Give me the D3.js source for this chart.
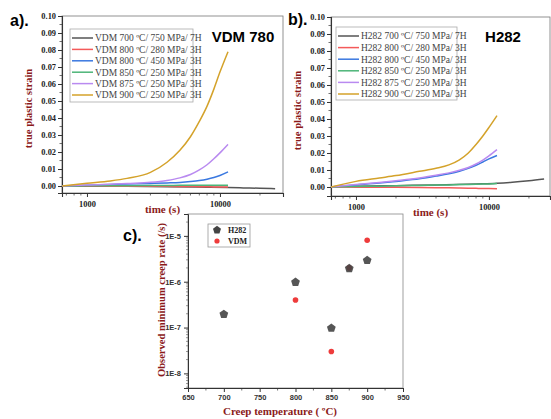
<!DOCTYPE html>
<html>
<head>
<meta charset="utf-8">
<script src="https://cdn.jsdelivr.net/npm/d3@7"></script>
<style>
  body { margin: 0; background: #fff; }
  svg { display: block; }
  .tk text { font-family: "Liberation Serif", serif; font-weight: bold; font-size: 8.4px; fill: #222; }
  .tkc text { font-family: "Liberation Sans", Arial, sans-serif; font-weight: bold; font-size: 7.5px; fill: #333; }
  .ttl { font-family: "Liberation Serif", serif; font-weight: bold; fill: #8b1a1a; }
  .lab { font-family: "Liberation Sans", Arial, sans-serif; font-weight: bold; fill: #000; }
  .leg { font-family: "Liberation Serif", serif; fill: #444; }
</style>
</head>
<body>
<svg width="551" height="419"></svg>
<script>
let W = 551, H = 419;

// creep curves: time (s)
let timeShort = [650, 1000, 1500, 2000, 3000, 4000, 5000, 6000, 7000, 8000, 9000, 10000, 11500];
let timeLong  = [650, 1000, 2000, 4000, 8000, 11500, 15000, 20000, 26000];

let seriesNames = ["700 \u00baC/ 750 MPa/ 7H", "800 \u00baC/ 280 MPa/ 3H", "800 \u00baC/ 450 MPa/ 3H",
                   "850 \u00baC/ 250 MPa/ 3H", "875 \u00baC/ 250 MPa/ 3H", "900 \u00baC/ 250 MPa/ 3H"];
let seriesColors = ["#555555", "#f45a5a", "#3a78e0", "#4cb578", "#b98af0", "#d4a22a"];

// VDM 780 strains
let vdm700 = [0, -0.0001, -0.0002, -0.0004, -0.0007, -0.0009, -0.0011, -0.0013, -0.0016];
let vdm800a = [0, 0, -0.0001, -0.0001, -0.0002, -0.0002, -0.0003, -0.0003, -0.0004, -0.0004, -0.0005, -0.0005, -0.0006];
let vdm800b = [0, 0.0005, 0.0009, 0.0012, 0.0015, 0.0018, 0.0021, 0.0026, 0.0032, 0.004, 0.005, 0.0062, 0.0083];
let vdm850 = [0, 0.0001, 0.0002, 0.0002, 0.0003, 0.0003, 0.0004, 0.0004, 0.0004, 0.0005, 0.0005, 0.0005, 0.0005];
let vdm875 = [0, 0.0006, 0.001, 0.0015, 0.0022, 0.0033, 0.0048, 0.0068, 0.0095, 0.0125, 0.016, 0.0195, 0.0245];
let vdm900 = [0, 0.0016, 0.003, 0.0045, 0.008, 0.014, 0.021, 0.029, 0.038, 0.047, 0.057, 0.067, 0.079];

// H282 strains
let h700 = [0, 0.0004, 0.0008, 0.0012, 0.0018, 0.0022, 0.0028, 0.0037, 0.0047];
let h800a = [0, -0.0001, -0.0002, -0.0002, -0.0003, -0.0004, -0.0005, -0.0006, -0.0007, -0.0008, -0.0009, -0.0009, -0.001];
let h800b = [0, 0.0012, 0.0023, 0.0033, 0.0048, 0.0064, 0.0078, 0.0093, 0.011, 0.0128, 0.0147, 0.0165, 0.0185];
let h850 = [0, 0.0003, 0.0005, 0.0007, 0.0009, 0.0011, 0.0012, 0.0014, 0.0015, 0.0016, 0.0017, 0.0018, 0.002];
let h875 = [0, 0.0015, 0.0027, 0.0037, 0.0053, 0.0069, 0.0083, 0.0098, 0.0115, 0.0135, 0.0158, 0.0183, 0.022];
let h900 = [0, 0.0033, 0.0053, 0.0067, 0.0092, 0.011, 0.013, 0.016, 0.02, 0.025, 0.03, 0.035, 0.042];

// minimum creep rate
let tempH282 = [700, 800, 850, 875, 900];
let rateH282 = [2e-7, 1e-6, 1e-7, 2e-6, 3e-6];
let tempVDM = [800, 850, 875, 900];
let rateVDM = [4e-7, 3e-8, 2e-6, 8e-6];

let strainTicks = [0, 0.01, 0.02, 0.03, 0.04, 0.05, 0.06, 0.07, 0.08, 0.09, 0.10];
let timeTicks = [1000, 10000];
let tempTicks = [650, 700, 750, 800, 850, 900, 950];
let rateTicks = [1e-8, 1e-7, 1e-6, 1e-5];

let svg = d3.select("svg");

function strainPanel(o) {
    let x = d3.scaleLog().domain(o.xd).range(o.xr);
    let y = d3.scaleLinear().domain(o.yd).range(o.yr);

    // frame
    svg.append("rect")
       .attr("x", o.xr[0]).attr("y", o.yr[1])
       .attr("width", o.xr[1] - o.xr[0]).attr("height", o.yr[0] - o.yr[1])
       .attr("fill", "none").attr("stroke", "#777").attr("stroke-width", 0.8);

    // minor ticks
    let minorX = [];
    [100, 1000, 10000].forEach(function (d) {
        for (let k = 2; k <= 9; k++) minorX.push(d * k);
    });
    minorX = minorX.filter(v => v > o.xd[0] && v < o.xd[1] && timeTicks.indexOf(v) < 0);
    svg.append("g").selectAll("line").data(minorX).enter().append("line")
       .attr("x1", d => x(d)).attr("x2", d => x(d))
       .attr("y1", o.yr[0]).attr("y2", o.yr[0] + 2.5)
       .attr("stroke", "#333").attr("stroke-width", 0.7);
    let minorY = d3.range(0.005, 0.1, 0.01);
    svg.append("g").selectAll("line").data(minorY).enter().append("line")
       .attr("x1", o.xr[0] - 2.5).attr("x2", o.xr[0])
       .attr("y1", d => y(d)).attr("y2", d => y(d))
       .attr("stroke", "#333").attr("stroke-width", 0.7);

    let gx = svg.append("g").attr("class", "tk")
       .attr("transform", "translate(0," + o.yr[0] + ")")
       .call(d3.axisBottom(x).tickValues(timeTicks).tickFormat(d3.format("d")).tickSize(4).tickPadding(4));
    let gy = svg.append("g").attr("class", "tk")
       .attr("transform", "translate(" + o.xr[0] + ",0)")
       .call(d3.axisLeft(y).tickValues(strainTicks).tickFormat(d3.format(".2f")).tickSize(4).tickPadding(2));
    [gx, gy].forEach(function (g) {
        g.select(".domain").attr("stroke", "#333").attr("stroke-width", 1.1);
        g.selectAll(".tick line").attr("stroke", "#333");
    });

    // curves
    let line = d3.line().x(d => x(d[0])).y(d => y(d[1])).curve(d3.curveMonotoneX);
    o.series.forEach(function (s, i) {
        let t = i === 0 ? timeLong : timeShort;
        svg.append("path")
           .datum(t.map((v, j) => [v, s[j]]))
           .attr("d", line)
           .attr("fill", "none")
           .attr("stroke", seriesColors[i])
           .attr("stroke-width", 1.5);
    });

    // legend
    let lg = svg.append("g");
    lg.append("rect")
      .attr("x", o.leg[0]).attr("y", o.leg[1]).attr("width", o.leg[2]).attr("height", o.leg[3])
      .attr("fill", "#fff").attr("stroke", "#aaa").attr("stroke-width", 0.8);
    seriesNames.forEach(function (n, i) {
        let yy = o.leg[1] + 9 + i * o.legStep;
        lg.append("line")
          .attr("x1", o.leg[0] + 2).attr("x2", o.leg[0] + 23)
          .attr("y1", yy).attr("y2", yy)
          .attr("stroke", seriesColors[i]).attr("stroke-width", 1.5);
        lg.append("text").attr("class", "leg")
          .attr("x", o.leg[0] + 25).attr("y", yy + 3.3)
          .attr("font-size", o.legFont)
          .text(o.prefix + " " + n);
    });

    svg.append("text").attr("class", "ttl")
       .attr("x", (o.xr[0] + o.xr[1]) / 2 - 10).attr("y", o.yr[0] + 20)
       .attr("text-anchor", "middle").attr("font-size", 11)
       .text("time (s)");
    svg.append("text").attr("class", "ttl")
       .attr("transform", "translate(" + (o.xr[0] - 30) + "," + ((o.yr[0] + o.yr[1]) / 2 + 4) + ") rotate(-90)")
       .attr("text-anchor", "middle").attr("font-size", 10.5)
       .text("true plastic strain");
    svg.append("text").attr("class", "lab")
       .attr("x", o.title[0]).attr("y", o.title[1])
       .attr("text-anchor", "middle").attr("font-size", 15)
       .text(o.title[2]);
    svg.append("text").attr("class", "lab")
       .attr("x", o.tag[0]).attr("y", o.tag[1]).attr("font-size", 16)
       .text(o.tag[2]);
}

strainPanel({
    xd: [649, 29800], xr: [62, 283],
    yd: [-0.0041, 0.10], yr: [193, 16],
    series: [vdm700, vdm800a, vdm800b, vdm850, vdm875, vdm900],
    prefix: "VDM",
    leg: [70, 29, 123, 73], legStep: 11.4, legFont: 9.5,
    title: [243, 42, "VDM 780"],
    tag: [10, 26, "a)."]
});

strainPanel({
    xd: [649, 28800], xr: [331, 550],
    yd: [-0.0053, 0.10], yr: [196, 17],
    series: [h700, h800a, h800b, h850, h875, h900],
    prefix: "H282",
    leg: [336, 27, 121, 73], legStep: 11.6, legFont: 9.5,
    title: [503, 42, "H282"],
    tag: [288, 25, "b)."]
});

// panel c
(function () {
    let xr = [188, 403], yr = [388, 214];
    let x = d3.scaleLinear().domain([650, 950]).range(xr);
    let y = d3.scaleLog().domain([4.8e-9, 3e-5]).range(yr);

    svg.append("rect")
       .attr("x", xr[0]).attr("y", yr[1]).attr("width", xr[1] - xr[0]).attr("height", yr[0] - yr[1])
       .attr("fill", "none").attr("stroke", "#888").attr("stroke-width", 0.8);

    let minorX = d3.range(675, 950, 50);
    svg.append("g").selectAll("line").data(minorX).enter().append("line")
       .attr("x1", d => x(d)).attr("x2", d => x(d))
       .attr("y1", yr[0]).attr("y2", yr[0] + 2.5)
       .attr("stroke", "#333").attr("stroke-width", 0.7);
    let minorY = [];
    [1e-9, 1e-8, 1e-7, 1e-6, 1e-5].forEach(function (d) {
        for (let k = 2; k <= 9; k++) minorY.push(d * k);
    });
    minorY = minorY.filter(v => v > 4.8e-9 && v < 3e-5);
    svg.append("g").selectAll("line").data(minorY).enter().append("line")
       .attr("x1", xr[0] - 2).attr("x2", xr[0])
       .attr("y1", d => y(d)).attr("y2", d => y(d))
       .attr("stroke", "#555").attr("stroke-width", 0.6);

    let gx = svg.append("g").attr("class", "tkc")
       .attr("transform", "translate(0," + yr[0] + ")")
       .call(d3.axisBottom(x).tickValues(tempTicks).tickSize(4).tickPadding(3));
    let gy = svg.append("g").attr("class", "tkc")
       .attr("transform", "translate(" + xr[0] + ",0)")
       .call(d3.axisLeft(y).tickValues(rateTicks)
            .tickFormat(d => "1E" + Math.round(Math.log10(d))).tickSize(4).tickPadding(3));
    [gx, gy].forEach(function (g) {
        g.select(".domain").attr("stroke", "#333").attr("stroke-width", 1);
        g.selectAll(".tick line").attr("stroke", "#333");
    });

    let pentagon = function (r) {
        let pts = d3.range(5).map(function (k) {
            let a = -Math.PI / 2 + k * 2 * Math.PI / 5;
            return [r * Math.cos(a), r * Math.sin(a)];
        });
        return "M" + pts.join("L") + "Z";
    };

    svg.append("g").selectAll("circle").data(tempVDM).enter().append("circle")
       .attr("cx", d => x(d)).attr("cy", (d, i) => y(rateVDM[i]))
       .attr("r", 2.8).attr("fill", "#ee3b3b");
    svg.append("g").selectAll("path").data(tempH282).enter().append("path")
       .attr("transform", (d, i) => "translate(" + x(d) + "," + (y(rateH282[i]) + 0.5) + ")")
       .attr("d", pentagon(4.6))
       .attr("fill", "#444").attr("fill-opacity", 0.9);

    // legend
    svg.append("rect").attr("x", 208).attr("y", 224).attr("width", 42).attr("height", 23)
       .attr("fill", "#fff").attr("stroke", "#999").attr("stroke-width", 0.8);
    svg.append("path").attr("transform", "translate(217,230)").attr("d", pentagon(4.2)).attr("fill", "#444");
    svg.append("circle").attr("cx", 217).attr("cy", 241).attr("r", 2.6).attr("fill", "#ee3b3b");
    svg.append("text").attr("class", "ttl").attr("x", 228).attr("y", 233)
       .attr("font-size", 8).style("fill", "#222").text("H282");
    svg.append("text").attr("class", "ttl").attr("x", 228).attr("y", 244)
       .attr("font-size", 8).style("fill", "#222").text("VDM");

    svg.append("text").attr("class", "ttl")
       .attr("x", 280).attr("y", 415).attr("text-anchor", "middle").attr("font-size", 11)
       .text("Creep temperature ( \u00baC)");
    svg.append("text").attr("class", "ttl")
       .attr("transform", "translate(165,300) rotate(-90)")
       .attr("text-anchor", "middle").attr("font-size", 10.5)
       .text("Observed minimum creep rate (/s)");
    svg.append("text").attr("class", "lab")
       .attr("x", 123).attr("y", 241).attr("font-size", 16)
       .text("c).");
})();
</script>
</body>
</html>
